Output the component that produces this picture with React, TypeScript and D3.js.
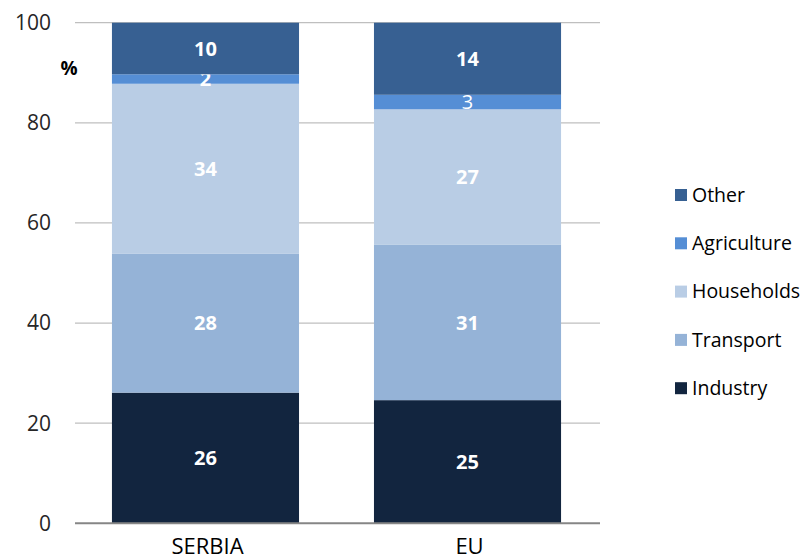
import * as d3 from "d3";
import React from "react";

// sectors, bottom to top
const sectors = ["Industry", "Transport", "Households", "Agriculture", "Other"];
const regions = ["SERBIA", "EU"];
const serbia = [26.1, 27.8, 33.9, 1.9, 10.3];
const eu = [24.6, 31.1, 27.0, 2.9, 14.4];
const yTicks = [0, 20, 40, 60, 80, 100];
const colors = ["#12253F", "#95B3D7", "#B9CDE5", "#558ED5", "#376092"];

const App = () => {
  const width = 801;
  const height = 560;
  const font = "'Open Sans', Calibri, sans-serif";

  const x = d3.scaleBand().domain(regions).range([75, 598]).paddingInner(0.286).paddingOuter(0.141);
  const y = d3.scaleLinear().domain([0, 100]).range([523.3, 22.7]);

  const rows = regions.map((r, i) => {
    const vals = i === 0 ? serbia : eu;
    const obj: any = { region: r };
    sectors.forEach((s, j) => (obj[s] = vals[j]));
    return obj;
  });
  const series = d3.stack().keys(sectors)(rows);

  return (
    <svg width={width} height={height} style={{ position: "absolute", left: 0, top: 0 }}>
      {yTicks.map((t) => (
        <g key={t}>
          {t > 0 && <line x1={75} x2={600} y1={y(t)} y2={y(t)} stroke="#bfbfbf" strokeWidth={1.3} />}
          <text x={51} y={y(t)} dy="0.35em" textAnchor="end" fontSize={21} fontFamily={font} fill="#262626">
            {t}
          </text>
        </g>
      ))}
      <text x={69} y={68} dy="0.35em" textAnchor="middle" fontSize={19} fontWeight="bold" fontFamily={font} fill="#000">%</text>
      {series.map((s, j) => (
        <g key={s.key}>
          {s.map((d, i) => (
            <rect
              key={i}
              x={x(regions[i])}
              width={x.bandwidth()}
              y={y(d[1])}
              height={y(d[0]) - y(d[1])}
              fill={colors[j]}
            />
          ))}
          {s.map((d, i) => (
            <text
              key={"t" + i}
              x={(x(regions[i]) as number) + x.bandwidth() / 2}
              y={(y(d[0]) + y(d[1])) / 2}
              dy="0.36em"
              textAnchor="middle"
              fontSize={20}
              fontWeight={i === 1 && j === 3 ? "normal" : "bold"}
              fontFamily={font}
              fill="#fff"
            >
              {Math.round(d[1] - d[0])}
            </text>
          ))}
        </g>
      ))}
      <line x1={75} x2={600} y1={y(0)} y2={y(0)} stroke="#868686" strokeWidth={2} />
      {regions.map((r) => (
        <text key={r} x={(x(r) as number) + x.bandwidth() / 2 + 2} y={554} textAnchor="middle" fontSize={22} fontFamily={font} fill="#000">
          {r}
        </text>
      ))}
      {sectors
        .slice()
        .reverse()
        .map((s, k) => {
          const j = sectors.length - 1 - k;
          const cy = 195 + k * 48.3;
          return (
            <g key={s}>
              <rect x={675} y={cy - 6} width={12} height={12} fill={colors[j]} />
              <text x={692} y={cy} dy="0.35em" fontSize={19.5} fontFamily={font} fill="#000">
                {s}
              </text>
            </g>
          );
        })}
    </svg>
  );
};

export default App;
